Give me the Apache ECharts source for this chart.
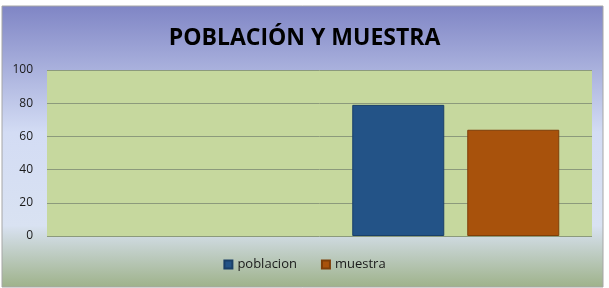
<!DOCTYPE html>
<html><head><meta charset="utf-8">
<script src="https://cdn.jsdelivr.net/npm/echarts@6/dist/echarts.min.js"></script>
<style>html,body{margin:0;padding:0;background:#fff}#c{width:609px;height:288px}</style>
</head><body><div id="c"></div>
<script>
const titleText = 'POBLACIÓN Y MUESTRA';
const categories = ['', ''];
const seriesNames = ['poblacion', 'muestra'];
const poblacion = [null, 79];
const muestra = [null, 64];
const yTicks = [0, 20, 40, 60, 80, 100];

const chart = echarts.init(document.getElementById('c'));
chart.setOption({
  backgroundColor: '#ffffff',
  animation: false,
  graphic: [{
    type: 'rect', z: -10, silent: true,
    shape: {x: 2, y: 6, width: 601, height: 281},
    style: {
      fill: new echarts.graphic.LinearGradient(0, 0, 0, 1, [
        {offset: 0, color: '#7f85c5'},
        {offset: 0.45, color: '#d3dcf4'},
        {offset: 0.78, color: '#d9e2f2'},
        {offset: 1, color: '#9eb28a'}
      ]),
      stroke: '#a6a6a6', lineWidth: 1
    }
  }],
  title: {
    text: titleText, left: 'center', top: 22,
    textStyle: {fontFamily: 'Open Sans', fontWeight: 'bold', fontSize: 23, color: '#000'}
  },
  legend: {
    data: seriesNames, bottom: 12, left: 'center', itemWidth: 8, itemHeight: 8, itemGap: 24,
    icon: 'rect',
    textStyle: {fontFamily: 'Open Sans', fontSize: 13, color: '#1a1a1a'}
  },
  grid: {left: 47, right: 17, top: 70, bottom: 52, containLabel: false,
    show: true, backgroundColor: '#c6d89e', borderWidth: 0},
  xAxis: {
    type: 'category', data: categories,
    axisLine: {show: false}, axisTick: {show: false}, axisLabel: {show: false}
  },
  yAxis: {
    type: 'value', min: yTicks[0], max: yTicks[yTicks.length - 1], interval: 20,
    axisLine: {show: false}, axisTick: {show: false},
    axisLabel: {fontFamily: 'Open Sans', fontSize: 12, color: '#1a1a1a', margin: 14},
    splitLine: {lineStyle: {color: '#8c9a7c', width: 1}}
  },
  series: [
    {name: seriesNames[0], type: 'bar', data: poblacion, barWidth: 92, barGap: '25%',
     itemStyle: {color: '#235387', borderColor: '#1a3f68', borderWidth: 1}},
    {name: seriesNames[1], type: 'bar', data: muestra, barWidth: 92,
     itemStyle: {color: '#a8520c', borderColor: '#7f3e08', borderWidth: 1}}
  ]
});
</script></body></html>
